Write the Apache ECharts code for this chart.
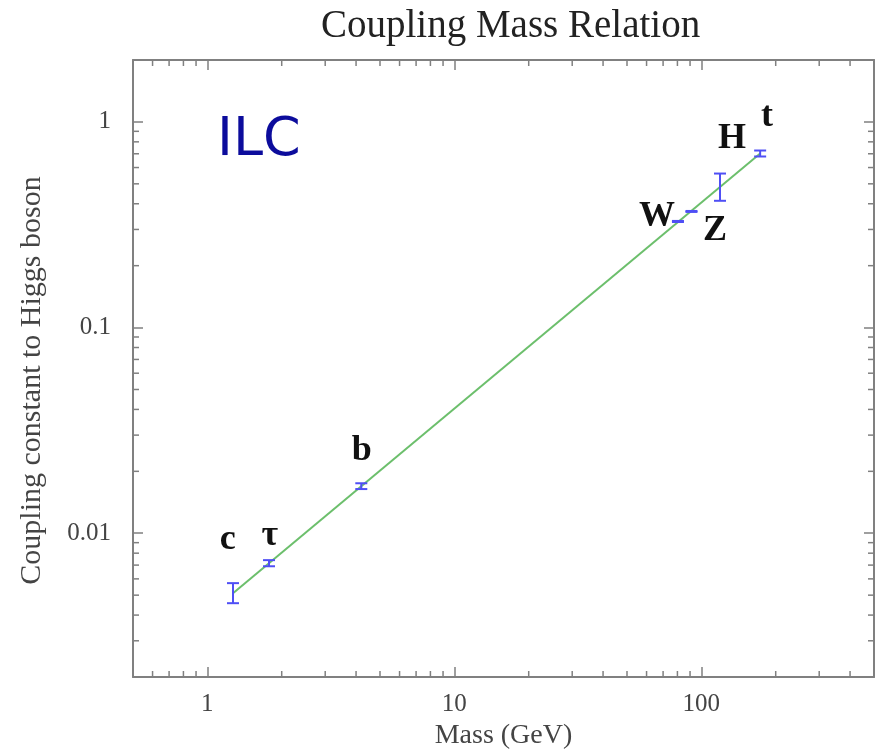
<!DOCTYPE html>
<html>
<head>
<meta charset="utf-8">
<script src="https://cdn.jsdelivr.net/npm/echarts@6/dist/echarts.min.js"></script>
<style>
html,body{margin:0;padding:0;background:#fff;}
#chart{width:882px;height:751px;}
</style>
</head>
<body>
<div id="chart"></div>
<script>
// ---- data ----
const particles = ['c', 'τ', 'b', 'W', 'Z', 'H', 't'];
const mass      = [1.27, 1.777, 4.2, 80.4, 91.2, 119, 173];
const coupling  = [0.00511, 0.00715, 0.0169, 0.328, 0.367, 0.480, 0.702];
const errLow    = [0.00457, 0.00691, 0.0164, 0.326, 0.365, 0.4135, 0.679];
const errHigh   = [0.00572, 0.0074, 0.0175, 0.330, 0.369, 0.561, 0.726];
const labelX    = [1.208, 1.788, 4.215, 66.2, 113.6, 133.1, 184.5];
const labelY    = [0.00935, 0.00978, 0.0253, 0.346, 0.296, 0.827, 1.057];
const fitX      = [1.27, 173];
const fitY      = [0.00511, 0.702];
const xRange    = [0.5, 500];
const yRange    = [0.002, 2];
const xMinorTicks = [0.6, 0.7, 0.8, 0.9, 2, 3, 4, 5, 6, 7, 8, 9, 20, 30, 40, 50, 60, 70, 80, 90, 200, 300, 400];
const yMinorTicks = [0.003, 0.004, 0.005, 0.006, 0.007, 0.008, 0.009, 0.02, 0.03, 0.04, 0.05, 0.06, 0.07, 0.08, 0.09, 0.2, 0.3, 0.4, 0.5, 0.6, 0.7, 0.8, 0.9];

const axisColor = '#808080';
const serif = '"Liberation Serif", "DejaVu Serif", serif';

function isDecade(v) {
  const l = Math.log10(v);
  return Math.abs(l - Math.round(l)) < 1e-6;
}
function fmt(v) {
  if (!isDecade(v)) return '';
  const e = Math.round(Math.log10(v));
  return e >= 0 ? String(Math.pow(10, e)) : Math.pow(10, e).toFixed(-e);
}

const chart = echarts.init(document.getElementById('chart'), null, {renderer: 'canvas'});

const baseAxisLine = {show: true, onZero: false, lineStyle: {color: axisColor, width: 2}};
const baseTick = {show: true, inside: true, length: 10, lineStyle: {color: axisColor, width: 1.5}};

const option = {
  backgroundColor: '#ffffff',
  animation: false,
  title: {
    text: 'Coupling Mass Relation',
    left: 316, top: 2,
    textStyle: {fontFamily: serif, fontSize: 39, fontWeight: 'normal', color: '#222'}
  },
  graphic: [{
    type: 'text', left: 217, top: 114,
    style: {text: 'ILC', fill: '#0c0c9c', font: '54px "DejaVu Sans", sans-serif'}
  }],
  grid: {left: 133, right: 8, top: 60, bottom: 74, containLabel: false, outerBoundsMode: 'none'},
  xAxis: [{
    type: 'log', logBase: 10, min: xRange[0], max: xRange[1], position: 'bottom',
    name: 'Mass (GeV)', nameLocation: 'middle', nameGap: 43,
    nameTextStyle: {fontFamily: serif, fontSize: 28, color: '#444'},
    axisLine: baseAxisLine, axisTick: baseTick,
    axisLabel: {formatter: fmt, fontFamily: serif, fontSize: 25, color: '#444', margin: 15},
    splitLine: {show: false}
  }, {
    type: 'log', logBase: 10, min: xRange[0], max: xRange[1], position: 'top',
    axisLine: baseAxisLine, axisTick: baseTick, axisLabel: {show: false}, splitLine: {show: false}
  }],
  yAxis: [{
    type: 'log', logBase: 10, min: yRange[0], max: yRange[1], position: 'left',
    name: 'Coupling constant to Higgs boson', nameLocation: 'middle', nameGap: 86,
    nameTextStyle: {fontFamily: serif, fontSize: 30, color: '#444', padding: [0, 24, 0, 0]},
    axisLine: baseAxisLine, axisTick: baseTick,
    axisLabel: {formatter: fmt, fontFamily: serif, fontSize: 25, color: '#444', margin: 22},
    splitLine: {show: false}
  }, {
    type: 'log', logBase: 10, min: yRange[0], max: yRange[1], position: 'right',
    axisLine: baseAxisLine, axisTick: baseTick, axisLabel: {show: false}, splitLine: {show: false}
  }],
  series: [
    {
      type: 'custom', name: 'xMinor', silent: true, z: 1,
      data: xMinorTicks.map(v => [v, 1]),
      renderItem: function (params, api) {
        const cs = params.coordSys;
        const px = api.coord([api.value(0), 1])[0];
        const yb = cs.y + cs.height;
        const st = {stroke: axisColor, lineWidth: 1.5};
        return {type: 'group', children: [
          {type: 'line', shape: {x1: px, y1: yb, x2: px, y2: yb - 6}, style: st},
          {type: 'line', shape: {x1: px, y1: cs.y, x2: px, y2: cs.y + 6}, style: st}
        ]};
      }
    },
    {
      type: 'custom', name: 'yMinor', silent: true, z: 1,
      data: yMinorTicks.map(v => [1, v]),
      renderItem: function (params, api) {
        const cs = params.coordSys;
        const py = api.coord([1, api.value(1)])[1];
        const xr = cs.x + cs.width;
        const st = {stroke: axisColor, lineWidth: 1.5};
        return {type: 'group', children: [
          {type: 'line', shape: {x1: cs.x, y1: py, x2: cs.x + 6, y2: py}, style: st},
          {type: 'line', shape: {x1: xr, y1: py, x2: xr - 6, y2: py}, style: st}
        ]};
      }
    },
    {
      type: 'line', name: 'fit', z: 2,
      data: fitX.map((x, i) => [x, fitY[i]]),
      showSymbol: false, symbol: 'none',
      lineStyle: {color: '#6cbf6c', width: 2}
    },
    {
      type: 'custom', name: 'errors', z: 3,
      data: mass.map((m, i) => [m, errLow[i], errHigh[i]]),
      renderItem: function (params, api) {
        const lo = api.coord([api.value(0), api.value(1)]);
        const hi = api.coord([api.value(0), api.value(2)]);
        const hw = 6;
        const st = {stroke: '#4f4ff5', lineWidth: 2};
        return {type: 'group', children: [
          {type: 'line', shape: {x1: lo[0], y1: lo[1], x2: hi[0], y2: hi[1]}, style: st},
          {type: 'line', shape: {x1: lo[0] - hw, y1: lo[1], x2: lo[0] + hw, y2: lo[1]}, style: st},
          {type: 'line', shape: {x1: hi[0] - hw, y1: hi[1], x2: hi[0] + hw, y2: hi[1]}, style: st}
        ]};
      }
    },
    {
      type: 'custom', name: 'labels', z: 4,
      data: labelX.map((x, i) => [x, labelY[i]]),
      renderItem: function (params, api) {
        const p = api.coord([api.value(0), api.value(1)]);
        return {type: 'text', x: p[0], y: p[1], style: {
          text: particles[params.dataIndex], fill: '#111',
          font: 'bold 36px ' + serif, align: 'center', verticalAlign: 'middle'
        }};
      }
    }
  ]
};
chart.setOption(option);
</script>
</body>
</html>
